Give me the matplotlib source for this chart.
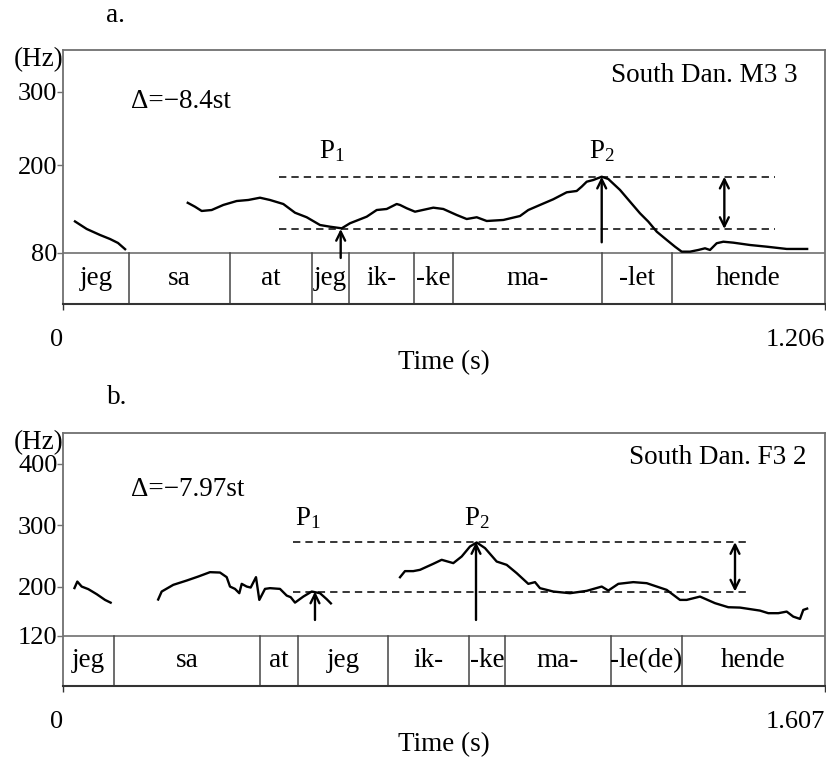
import matplotlib
matplotlib.use("Agg")
import matplotlib.pyplot as plt
import numpy as np

plt.rcParams['font.family'] = ['Liberation Serif', 'DejaVu Serif']
plt.rcParams['mathtext.fontset'] = 'custom'
plt.rcParams['mathtext.rm'] = 'Liberation Serif'
plt.rcParams['mathtext.it'] = 'Liberation Serif:italic'

# ---------------- Panel a data ----------------
a_duration = 1.206
a_yticks = [80, 200, 300]
a_bounds = [0.0, 0.1045, 0.2643, 0.3941, 0.4527, 0.5555, 0.6172, 0.8531, 0.9639, 1.206]
a_words = ["jeg", "sa", "at", "jeg", "ik-", "-ke", "ma-", "-let", "hende"]
a_c1_t = [0.0174, 0.0375, 0.0586, 0.0744, 0.0870, 0.0997]
a_c1_hz = [124.0, 112.8, 104.6, 99.1, 93.7, 84.1]
a_c2_t = [0.1958, 0.2089, 0.2195, 0.2353, 0.2537, 0.2749, 0.2933, 0.3118, 0.3276, 0.3487,
          0.3672, 0.3857, 0.4068, 0.4226, 0.4411, 0.4542, 0.4807, 0.4965, 0.5123, 0.5281,
          0.5334, 0.5440, 0.5571, 0.5861, 0.6019, 0.6231, 0.6389, 0.6548, 0.6706, 0.6969,
          0.7233, 0.7364, 0.7549, 0.7760, 0.7972, 0.8130, 0.8209, 0.8289, 0.8393, 0.8526,
          0.8630, 0.8816, 0.8974, 0.9132, 0.9264, 0.9397, 0.9555, 0.9686, 0.9792, 0.9924,
          1.0055, 1.0161, 1.0240, 1.0346, 1.0451, 1.0609, 1.0873, 1.1138, 1.1454, 1.1796]
a_c2_hz = [149.3, 143.2, 137.4, 138.7, 145.6, 151.0, 152.4, 155.5, 152.4, 146.9,
           135.0, 128.8, 118.2, 115.9, 113.7, 120.6, 129.6, 138.7, 140.1, 146.9,
           145.6, 141.1, 136.4, 141.9, 140.1, 131.9, 126.4, 128.8, 123.7, 125.1,
           130.5, 138.7, 145.6, 153.4, 162.9, 164.7, 170.6, 177.4, 179.7, 184.2,
           181.1, 166.1, 150.1, 134.2, 122.8, 109.1, 97.8, 88.6, 81.8, 81.8,
           84.1, 86.4, 84.1, 93.3, 95.4, 94.1, 90.9, 88.6, 85.5, 85.5]
a_p1 = (0.4395, 112.8)
a_p2 = (0.8526, 184.2)
a_dash_span = (0.3419, 1.1269)
a_delta = "Δ=−8.4st"
a_title = "South Dan. M3 3"

# ---------------- Panel b data ----------------
b_duration = 1.607
b_yticks = [120, 200, 300, 400]
b_bounds = [0.0, 0.1076, 0.4155, 0.4956, 0.6854, 0.8562, 0.9322, 1.1557, 1.3054, 1.607]
b_words = ["jeg", "sa", "at", "jeg", "ik-", "-ke", "ma-", "-le(de)", "hende"]
b_c1_t = [0.0232, 0.0302, 0.0394, 0.0534, 0.0711, 0.0886, 0.1027]
b_c1_hz = [196.1, 208.4, 200.3, 196.1, 187.9, 178.6, 173.3]
b_c2_t = [0.1997, 0.2081, 0.2326, 0.2609, 0.2853, 0.3100, 0.3311, 0.3452, 0.3522, 0.3627,
          0.3718, 0.3769, 0.3874, 0.3958, 0.4070, 0.4140, 0.4260, 0.4365, 0.4576, 0.4718,
          0.4802, 0.4893, 0.5068, 0.5245, 0.5420, 0.5561, 0.5667]
b_c2_hz = [177.5, 192.2, 203.1, 210.1, 216.6, 223.7, 223.1, 215.6, 200.3, 196.5,
           189.5, 204.7, 200.3, 198.7, 215.6, 178.6, 196.5, 197.7, 196.5, 185.6,
           183.0, 174.2, 184.0, 192.2, 189.5, 179.8, 171.6]
b_c3_t = [0.7092, 0.7212, 0.7387, 0.7529, 0.7809, 0.7986, 0.8231, 0.8408, 0.8583, 0.8724,
          0.8900, 0.9146, 0.9357, 0.9568, 0.9813, 0.9954, 1.0059, 1.0340, 1.0692, 1.1044,
          1.1361, 1.1500, 1.1711, 1.2027, 1.2310, 1.2731, 1.3012, 1.3153, 1.3434, 1.3750,
          1.4030, 1.4277, 1.4699, 1.4874, 1.5085, 1.5262, 1.5401, 1.5543, 1.5612, 1.5717]
b_c3_hz = [214.0, 225.4, 225.4, 227.5, 237.3, 243.8, 238.4, 249.2, 265.4, 272.0,
           262.8, 241.0, 235.6, 222.1, 204.7, 207.5, 197.7, 192.2, 189.5, 193.3,
           200.3, 193.8, 204.7, 207.5, 205.8, 194.9, 178.6, 178.6, 184.0, 173.3,
           166.7, 166.1, 161.2, 157.0, 157.0, 159.6, 151.4, 147.7, 162.3, 165.1]
b_p1 = (0.5314, 192.2)
b_p2 = (0.8710, 272.6)
b_dash_span = (0.4857, 1.4453)
b_delta = "Δ=−7.97st"
b_title = "South Dan. F3 2"

FS = 19.5
TFS = 19
FRAME = '#707070'
DARK = '#333333'

W, H = 826, 758
fig = plt.figure(figsize=(W / 100, H / 100), dpi=100)


def px_axes(left, top, right, bottom):
    return fig.add_axes([left / W, 1 - bottom / H, (right - left) / W, (bottom - top) / H])


def draw_panel(ax, duration, ylim, base, yticks, bounds, words, contours,
               p1, p2, dash_span, delta, title, arrow_low, lbl_y, delta_y, title_y, hz_y, dbl_t):
    ax.set_xlim(0, duration)
    ax.set_ylim(*ylim)
    for t, hz in contours:
        ax.plot(t, hz, color='black', lw=1.7, solid_capstyle='butt', zorder=3)
    # tier
    ax.axhline(base, color=FRAME, lw=1.2, zorder=2)
    for b in bounds[1:-1]:
        ax.plot([b, b], [ylim[0], base], color='#454545', lw=1.1, zorder=2)
    for i, w in enumerate(words):
        ax.text((bounds[i] + bounds[i + 1]) / 2, (ylim[0] + base) / 2, w,
                ha='center', va='center', fontsize=FS)
    # dashed reference lines
    dash = (0, (4.8, 3.3))
    ax.plot(dash_span, [p1[1], p1[1]], color='black', lw=1.1, linestyle=dash, zorder=2)
    ax.plot(dash_span, [p2[1], p2[1]], color='black', lw=1.1, linestyle=dash, zorder=2)
    # arrows
    astyle = dict(arrowstyle='->,head_length=0.65,head_width=0.32', color='black', lw=1.7,
                  shrinkA=0, shrinkB=0)
    ax.annotate('', xy=p1, xytext=(p1[0], arrow_low[0]), arrowprops=astyle)
    ax.annotate('', xy=p2, xytext=(p2[0], arrow_low[1]), arrowprops=astyle)
    dstyle = dict(arrowstyle='<->,head_length=0.65,head_width=0.32', color='black', lw=1.7,
                  shrinkA=0, shrinkB=0)
    ax.annotate('', xy=(dbl_t, p2[1]), xytext=(dbl_t, p1[1]), arrowprops=dstyle)
    # labels
    ax.text(lbl_y[0], lbl_y[2], r'P$_{\mathrm{1}}$', ha='center', va='center', fontsize=FS)
    ax.text(lbl_y[1], lbl_y[2], r'P$_{\mathrm{2}}$', ha='center', va='center', fontsize=FS)
    ax.text(delta_y[0], delta_y[1], delta, ha='left', va='center', fontsize=FS)
    ax.text(title_y[0], title_y[1], title, ha='right', va='center', fontsize=FS)
    ax.text(0, hz_y, '(Hz)', transform=ax.get_yaxis_transform(), ha='right', va='center',
            fontsize=FS)
    # axes styling
    for s in ['top', 'left', 'right']:
        ax.spines[s].set_color(FRAME)
        ax.spines[s].set_linewidth(1.3)
    ax.spines['bottom'].set_color(DARK)
    ax.spines['bottom'].set_linewidth(1.5)
    ax.set_yticks(yticks)
    ax.set_yticklabels([str(v) for v in yticks])
    ax.tick_params(axis='y', direction='out', length=4, width=1, color=FRAME, pad=0,
                   labelsize=TFS)
    ax.set_xticks([0, duration])
    ax.set_xticklabels(['0', f'{duration:.3f}'])
    ax.tick_params(axis='x', direction='out', length=4, width=1, color=DARK, pad=14,
                   labelsize=TFS)
    labs = ax.get_xticklabels()
    labs[0].set_horizontalalignment('right')
    labs[1].set_horizontalalignment('right')
    ax.set_xlabel('Time (s)', fontsize=FS, labelpad=-1)


axa = px_axes(63, 50, 825, 304)
draw_panel(axa, a_duration, (10.3, 357.3), 80, a_yticks, a_bounds, a_words,
           [(a_c1_t, a_c1_hz), (a_c2_t, a_c2_hz)], a_p1, a_p2, a_dash_span,
           a_delta, a_title, arrow_low=(73.2, 94.6), lbl_y=(0.4252, 0.8526, 219.0),
           delta_y=(0.1076, 286.7), title_y=(1.163, 323.0), hz_y=343.6, dbl_t=1.0467)

axb = px_axes(63, 433, 825, 686)
draw_panel(axb, b_duration, (38.6, 450.0), 120, b_yticks, b_bounds, b_words,
           [(b_c1_t, b_c1_hz), (b_c2_t, b_c2_hz), (b_c3_t, b_c3_hz)], b_p1, b_p2,
           b_dash_span, b_delta, b_title, arrow_low=(146.0, 146.0),
           lbl_y=(0.5174, 0.8737, 311.7), delta_y=(0.1434, 357.8),
           title_y=(1.569, 409.4), hz_y=435.0, dbl_t=1.4172)

fig.text(106 / W, 1 - 16 / H, 'a.', fontsize=FS, ha='left', va='center')
fig.text(107 / W, 1 - 398 / H, 'b.', fontsize=FS, ha='left', va='center')

fig.savefig('out.png', dpi=100)
